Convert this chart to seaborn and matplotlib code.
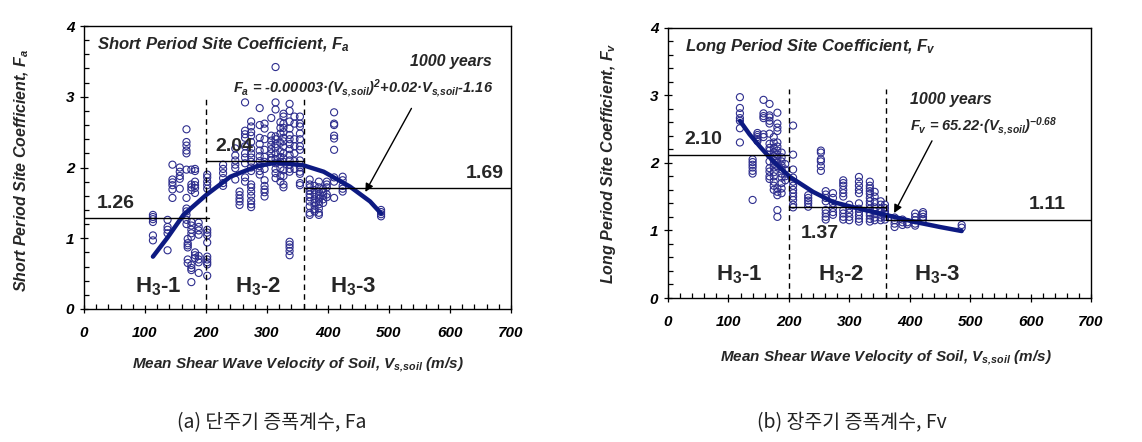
import numpy as np
import pandas as pd
import matplotlib
matplotlib.use("Agg")
import matplotlib.pyplot as plt
import seaborn as sns
from matplotlib.ticker import MultipleLocator
from matplotlib.font_manager import FontProperties

# ---------------- data ----------------
# (a) short period site coefficient Fa : columns of points at a given Vs
fa_col_v = [113, 137, 145, 157, 168, 170, 176, 182, 188, 202,
            228, 248, 255, 264, 274, 288, 296, 307, 314, 322, 327, 337, 345, 354,
            370, 378, 385, 392, 398, 410, 424, 487]
fa_col_f = [
    [1.33, 1.30, 1.27, 1.23, 1.04, 0.97],
    [1.26, 1.16, 1.12, 1.07, 0.83],
    [2.04, 1.83, 1.79, 1.75, 1.69, 1.57],
    [2.00, 1.94, 1.88, 1.84, 1.70],
    [2.54, 2.36, 2.31, 2.24, 2.20, 1.97, 1.57, 1.42, 1.38, 1.33, 1.26, 1.20],
    [0.99, 0.93, 0.90, 0.87, 0.70, 0.65],
    [1.97, 1.76, 1.72, 1.68, 1.23, 1.18, 1.12, 1.07, 1.02, 0.62, 0.58, 0.55, 0.38],
    [1.98, 1.95, 1.80, 1.75, 1.71, 1.64, 0.80, 0.76, 0.72],
    [1.22, 1.16, 1.11, 1.05, 0.75, 0.70, 0.66, 0.51],
    [1.90, 1.86, 1.80, 1.75, 1.70, 1.12, 1.08, 1.04, 0.94, 0.74, 0.70, 0.66, 0.63, 0.47],
    [2.04, 1.98, 1.92, 1.85, 1.78, 1.74],
    [2.27, 2.17, 2.10, 2.04, 1.99, 1.83],
    [1.66, 1.61, 1.56, 1.52, 1.47],
    [2.92, 2.52, 2.47, 2.42, 2.30, 2.20, 2.14, 2.06, 1.86, 1.80],
    [2.65, 2.58, 2.50, 2.45, 2.36, 2.27, 2.20, 2.14, 2.08, 2.00, 1.95, 1.76, 1.72, 1.66, 1.60, 1.53, 1.48, 1.44],
    [2.84, 2.60, 2.42, 2.33, 2.24, 2.16, 2.09, 2.02, 1.95, 1.90],
    [2.62, 2.55, 2.40, 2.25, 2.15, 2.08, 1.98, 1.82, 1.74, 1.69, 1.65, 1.59],
    [2.70, 2.45, 2.38, 2.32, 2.26, 2.20, 2.14, 2.10],
    [3.42, 2.92, 2.82, 2.44, 2.40, 2.33, 2.28, 2.20, 2.12, 2.06, 1.98, 1.92, 1.85],
    [2.64, 2.56, 2.48, 2.35, 2.23, 2.15, 2.08, 1.99, 1.88, 1.80],
    [2.76, 2.72, 2.62, 2.56, 2.50, 2.42, 2.37, 2.30, 2.20, 2.13, 2.08, 1.96, 1.88, 1.76, 1.72],
    [2.90, 2.80, 2.65, 2.55, 2.46, 2.40, 2.33, 2.26, 2.18, 2.10, 2.04, 1.98, 1.94, 0.95, 0.91, 0.87, 0.82, 0.76],
    [2.72, 2.62, 2.40, 2.30, 2.20, 2.09, 1.98],
    [2.72, 2.62, 2.58, 2.48, 2.40, 2.30, 2.25, 2.10, 2.00, 1.94, 1.91, 1.78, 1.75],
    [1.83, 1.76, 1.72, 1.67, 1.62, 1.58, 1.52, 1.45, 1.36, 1.33],
    [1.74, 1.68, 1.62, 1.55, 1.50, 1.46, 1.41, 1.38],
    [1.80, 1.72, 1.66, 1.60, 1.56, 1.52, 1.48, 1.42, 1.36, 1.33],
    [1.70, 1.65, 1.60, 1.55, 1.50],
    [1.80, 1.76, 1.72, 1.62, 1.58],
    [2.78, 2.62, 2.60, 2.45, 2.41, 2.25, 1.86, 1.80, 1.57],
    [1.87, 1.82, 1.74, 1.70, 1.66],
    [1.40, 1.37, 1.34, 1.31],
]
# fitted Fa trend line
fa_curve_v = [113, 137, 163, 200, 240, 284, 316, 360, 393, 436, 469, 487]
fa_curve_f = [0.74, 1.01, 1.33, 1.61, 1.87, 2.02, 2.07, 2.03, 1.94, 1.73, 1.52, 1.35]
# zone mean levels
fa_lvl_start = [0, 200, 360]
fa_lvl_end = [205, 360, 700]
fa_lvl = [1.28, 2.09, 1.71]
fa_lvl_text = ["1.26", "2.04", "1.69"]

# (b) long period site coefficient Fv
fv_col_v = [119, 140, 148, 158, 168, 175, 181, 188, 194, 207, 232, 253, 261, 273,
            290, 300, 316, 334, 342, 352, 359, 375, 388, 396, 409, 422, 486]
fv_col_f = [
    [2.97, 2.81, 2.73, 2.66, 2.62, 2.51, 2.30],
    [2.05, 2.01, 1.97, 1.93, 1.88, 1.84, 1.45],
    [2.44, 2.41, 2.38, 2.35, 2.32],
    [2.93, 2.73, 2.69, 2.66, 2.42, 2.38],
    [2.87, 2.70, 2.67, 2.62, 2.58, 2.43, 2.28, 2.22, 2.18, 2.12, 2.02, 1.92, 1.87, 1.80, 1.76],
    [2.38, 2.30, 2.22, 2.16, 2.10, 2.04, 1.98, 1.93, 1.86, 1.80, 1.72, 1.66, 1.60],
    [2.74, 2.58, 2.52, 2.47, 2.30, 2.24, 2.18, 2.12, 2.06, 2.00, 1.95, 1.62, 1.57, 1.52, 1.30, 1.20],
    [2.15, 2.08, 2.02, 1.96, 1.90, 1.84, 1.78, 1.70, 1.62, 1.55],
    [1.98, 1.90, 1.80, 1.74],
    [2.55, 2.12, 1.90, 1.78, 1.72, 1.66, 1.60, 1.55, 1.50, 1.45, 1.38, 1.34],
    [1.52, 1.48, 1.44, 1.40, 1.35],
    [2.18, 2.15, 2.05, 2.02, 1.95, 1.88],
    [1.58, 1.53, 1.48, 1.43, 1.30, 1.25, 1.20, 1.16],
    [1.55, 1.48, 1.40, 1.33, 1.27, 1.23],
    [1.74, 1.70, 1.66, 1.60, 1.55, 1.50, 1.30, 1.25, 1.20, 1.16],
    [1.38, 1.32, 1.26, 1.20, 1.15],
    [1.79, 1.72, 1.66, 1.60, 1.55, 1.40, 1.32, 1.27, 1.22, 1.17, 1.13],
    [1.72, 1.66, 1.62, 1.58, 1.54, 1.48, 1.43, 1.38, 1.32, 1.26, 1.22, 1.17, 1.13],
    [1.57, 1.50, 1.42, 1.34, 1.28, 1.24, 1.19, 1.15],
    [1.43, 1.38, 1.32, 1.27, 1.23, 1.19, 1.15],
    [1.38, 1.33, 1.28, 1.24, 1.20, 1.16],
    [1.19, 1.15, 1.10, 1.05],
    [1.16, 1.12, 1.08],
    [1.12, 1.09],
    [1.25, 1.20, 1.15, 1.10, 1.07],
    [1.27, 1.24, 1.20, 1.16],
    [1.08, 1.04],
]
fv_curve_v = [119, 135, 152, 166, 180, 202, 240, 273, 312, 360, 406, 450, 486]
fv_curve_f = [2.62, 2.42, 2.24, 2.10, 1.97, 1.79, 1.57, 1.42, 1.33, 1.23, 1.13, 1.05, 0.99]
fv_lvl_start = [0, 200, 360]
fv_lvl_end = [200, 360, 700]
fv_lvl = [2.11, 1.35, 1.155]
fv_lvl_text = ["2.10", "1.37", "1.11"]

zone_names = ["H$_\\mathbf{3}$-1", "H$_\\mathbf{3}$-2", "H$_\\mathbf{3}$-3"]
zone_bounds = [200, 360]
x_ticks = [0, 100, 200, 300, 400, 500, 600, 700]
y_ticks = [0, 1, 2, 3, 4]
captions = ["(a) 단주기 증폭계수, Fa", "(b) 장주기 증폭계수, Fv"]

# ---------------- style ----------------
sns.set_theme(style="ticks")
plt.rcParams["font.family"] = ["Liberation Sans", "DejaVu Sans"]
plt.rcParams["mathtext.fontset"] = "custom"
plt.rcParams["mathtext.rm"] = "Liberation Sans:bold:italic"
plt.rcParams["mathtext.it"] = "Liberation Sans:bold:italic"
plt.rcParams["mathtext.bf"] = "Liberation Sans:bold"
plt.rcParams["mathtext.sf"] = "Liberation Sans:bold:italic"

MARK = "#2e2e8e"
LINE = "#0d1a82"

narrow = ["Liberation Sans Narrow", "Liberation Sans"]
tick_fp = FontProperties(family=narrow, style="italic", weight="bold", size=11)
xlab_fp = FontProperties(family=narrow, style="italic", weight="bold", size=11)
bi = dict(family=["Liberation Sans", "DejaVu Sans"], style="italic", weight="bold")
bnum = dict(family=["Liberation Sans", "DejaVu Sans"], weight="bold")
VS = "$V_{s{,}soil}$"


def flatten(cols_v, cols_f):
    vv, ff = [], []
    for v, fs in zip(cols_v, cols_f):
        for f in fs:
            vv.append(v)
            ff.append(f)
    return pd.DataFrame({"Vs": vv, "F": ff})


fig = plt.figure(figsize=(11.42, 4.42), dpi=100)
axA = fig.add_axes([84 / 1142, 1 - 309 / 442, 427 / 1142, 283 / 442])
axB = fig.add_axes([668 / 1142, 1 - 298 / 442, 423 / 1142, 270.5 / 442])


def setup(ax, df, cv, cf, ls, le, lv, dash_top):
    sns.scatterplot(data=df, x="Vs", y="F", ax=ax, marker="o", s=26,
                    facecolors="none", edgecolor=MARK, linewidth=0.8, legend=False)
    for c in ax.collections:
        c.set_facecolor("none")
        c.set_edgecolor(MARK)
    sns.lineplot(x=cv, y=cf, ax=ax, color=LINE, lw=3.2, sort=True, legend=False)
    for s, e, l in zip(ls, le, lv):
        ax.plot([s, e], [l, l], color="black", lw=1.0, zorder=3)
    for b in zone_bounds:
        ax.plot([b, b], [0, dash_top], color="black", lw=1.0, ls=(0, (4, 3)), zorder=3)
    ax.set_xlim(0, 700)
    ax.set_ylim(0, 4)
    ax.set_xticks(x_ticks)
    ax.set_yticks(y_ticks)
    ax.xaxis.set_minor_locator(MultipleLocator(20))
    ax.yaxis.set_minor_locator(MultipleLocator(0.2))
    ax.tick_params(which="major", direction="inout", length=6, width=0.9, color="black")
    ax.tick_params(which="minor", direction="in", length=3.5, width=0.9, color="black")
    ax.tick_params(axis="x", which="major", pad=9)
    ax.tick_params(axis="y", which="major", pad=4)
    for lb in ax.get_xticklabels() + ax.get_yticklabels():
        lb.set_fontproperties(tick_fp)
        lb.set_color("black")
    for sp in ax.spines.values():
        sp.set_visible(True)
        sp.set_color("black")
        sp.set_linewidth(1.0)
    ax.set_facecolor("white")


dfA = flatten(fa_col_v, fa_col_f)
dfB = flatten(fv_col_v, fv_col_f)
setup(axA, dfA, fa_curve_v, fa_curve_f, fa_lvl_start, fa_lvl_end, fa_lvl, 2.97)
setup(axB, dfB, fv_curve_v, fv_curve_f, fv_lvl_start, fv_lvl_end, fv_lvl, 3.09)

# axis labels
axA.set_ylabel("Short Period Site Coefficient, $F_a$", fontsize=11.5, **bi)
axA.yaxis.set_label_coords(-0.124, 0.49)
axB.set_ylabel("Long Period Site Coefficient, $F_v$", fontsize=11.5, **bi)
axB.yaxis.set_label_coords(-0.118, 0.50)
axA.set_xlabel("Mean Shear Wave Velocity of Soil, " + VS + " (m/s)", fontproperties=xlab_fp)
axA.xaxis.set_label_coords(0.5, -0.198)
axA.xaxis.label.set_va("center")
axB.set_xlabel("Mean Shear Wave Velocity of Soil, " + VS + " (m/s)", fontproperties=xlab_fp)
axB.xaxis.set_label_coords(0.514, -0.222)
axB.xaxis.label.set_va("center")

# panel (a) annotations
axA.text(0.030, 0.932, "Short Period Site Coefficient, $F_a$", transform=axA.transAxes,
         ha="left", va="center", fontsize=12, **bi)
axA.text(0.955, 0.873, "1000 years", transform=axA.transAxes, ha="right", va="center",
         fontsize=11.5, **bi)
axA.text(0.959, 0.780, "$F_a$ = -0.00003·(" + VS + ")$^2$+0.02·" + VS + "-1.16",
         transform=axA.transAxes, ha="right", va="center", fontsize=10.5, **bi)
for x, y, t in zip([52, 247, 657], [1.49, 2.30, 1.92], fa_lvl_text):
    axA.text(x, y, t, ha="center", va="center", fontsize=14, **bnum)
for x, t in zip([122, 285, 442], zone_names):
    axA.text(x, 0.31, t, ha="center", va="center", fontsize=16, **bnum)
axA.annotate("", xy=(459, 1.62), xytext=(539, 2.87),
             arrowprops=dict(arrowstyle="-|>", color="black", lw=1.0, mutation_scale=12))

# panel (b) annotations
axB.text(0.041, 0.930, "Long Period Site Coefficient, $F_v$", transform=axB.transAxes,
         ha="left", va="center", fontsize=12, **bi)
axB.text(0.572, 0.733, "1000 years", transform=axB.transAxes, ha="left", va="center",
         fontsize=11.5, **bi)
axB.text(0.572, 0.634, "$F_v$ = 65.22·(" + VS + ")$^{-0.68}$",
         transform=axB.transAxes, ha="left", va="center", fontsize=10.5, **bi)
for x, y, t in zip([59, 252, 627], [2.35, 0.96, 1.39], fv_lvl_text):
    axB.text(x, y, t, ha="center", va="center", fontsize=14, **bnum)
for x, t in zip([118, 286, 446], zone_names):
    axB.text(x, 0.34, t, ha="center", va="center", fontsize=16, **bnum)
axB.annotate("", xy=(372, 1.22), xytext=(439, 2.36),
             arrowprops=dict(arrowstyle="-|>", color="black", lw=1.0, mutation_scale=12))

# captions
for xc, t in zip([272 / 1142, 852 / 1142], captions):
    fig.text(xc, 1 - 423 / 442, t, ha="center", va="center", fontsize=14,
             family=["Noto Sans CJK KR", "DejaVu Sans"], color="#222222")

fig.savefig("out.png", dpi=100, facecolor="white")
